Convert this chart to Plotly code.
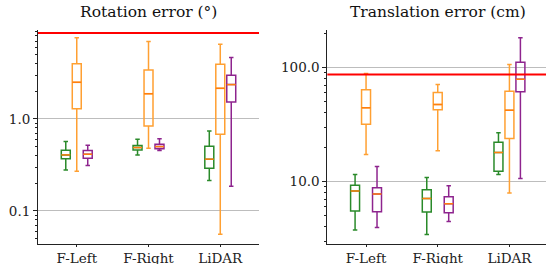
import plotly.graph_objects as go

categories = ["F-Left", "F-Right", "LiDAR"]
methods = ["A", "B", "C"]
method_colors = ["#2a8a2a", "#ffa032", "#8e248e"]
median_color = "#ff7f0e"

# Rotation error (deg): per method, per category
rot_low = [[0.279, 0.406, 0.214], [0.27, 0.48, 0.0558], [0.311, 0.453, 0.185]]
rot_q1 = [[0.37, 0.46, 0.291], [1.29, 0.84, 0.68], [0.374, 0.475, 1.53]]
rot_med = [[0.406, 0.488, 0.365], [2.5, 1.88, 2.15], [0.413, 0.50, 2.36]]
rot_q3 = [[0.456, 0.513, 0.505], [3.99, 3.41, 3.93], [0.453, 0.53, 2.99]]
rot_high = [[0.567, 0.601, 0.741], [7.65, 6.93, 6.49], [0.518, 0.61, 4.64]]
rot_threshold = 8.6

# Translation error (cm)
tr_low = [[3.74, 3.43, 11.5], [17.2, 18.6, 7.9], [3.94, 4.46, 10.6]]
tr_q1 = [[5.5, 5.38, 12.3], [31.8, 42.5, 23.8], [5.41, 5.31, 61.1]]
tr_med = [[8.24, 7.1, 17.9], [44.4, 47.3, 42.2], [7.75, 6.37, 79.0]]
tr_q3 = [[9.25, 8.46, 22.1], [63.7, 60.2, 61.9], [8.81, 7.33, 111.0]]
tr_high = [[11.5, 10.8, 26.8], [88.5, 70.8, 106.0], [13.5, 9.16, 182.0]]
tr_threshold = 86.8

rot_ticks = [0.1, 1.0]
rot_ticktext = ["0.1", "1.0"]
tr_ticks = [10, 100]
tr_ticktext = ["10.0", "100.0"]

offsets = [-0.153, 0.0, 0.153]
box_w = 0.125
x_range = [-0.54, 2.54]

fig = go.Figure()

def add_panel(low, q1, med, q3, high, xa, ya):
    for m in range(3):
        xs = [i + offsets[m] for i in range(len(categories))]
        fig.add_trace(go.Box(
            x=xs, q1=q1[m], median=med[m], q3=q3[m],
            lowerfence=low[m], upperfence=high[m],
            width=box_w, whiskerwidth=0.5, boxpoints=False,
            line=dict(color=method_colors[m], width=1.5),
            fillcolor="rgba(255,255,255,0)",
            xaxis=xa, yaxis=ya, showlegend=False, hoverinfo="skip"))
        mx, my = [], []
        for i, x in enumerate(xs):
            mx += [x - box_w / 2, x + box_w / 2, None]
            my += [med[m][i], med[m][i], None]
        fig.add_trace(go.Scatter(x=mx, y=my, mode="lines",
                                 line=dict(color=median_color, width=1.5),
                                 xaxis=xa, yaxis=ya, showlegend=False, hoverinfo="skip"))

add_panel(rot_low, rot_q1, rot_med, rot_q3, rot_high, "x", "y")
add_panel(tr_low, tr_q1, tr_med, tr_q3, tr_high, "x2", "y2")

fig.add_shape(type="line", xref="x domain", x0=0, x1=1, yref="y",
              y0=rot_threshold, y1=rot_threshold, line=dict(color="red", width=2))
fig.add_shape(type="line", xref="x2 domain", x0=0, x1=1, yref="y2",
              y0=tr_threshold, y1=tr_threshold, line=dict(color="red", width=2))

font = dict(family="DejaVu Serif", size=13.5, color="#222")
axis_common = dict(showline=True, linecolor="#222", linewidth=1, mirror=False,
                   ticks="outside", tickcolor="#222", tickfont=font,
                   zeroline=False, automargin=False)

def minor_vals(decades):
    out = []
    for d in decades:
        out += [k * d for k in range(2, 10)]
    return out

title_font = dict(family="DejaVu Serif", size=15.5, color="#111")
ydom = [0.0758, 0.8864]

fig.update_layout(
    width=546, height=264, margin=dict(l=0, r=0, t=0, b=0),
    plot_bgcolor="white", paper_bgcolor="white", boxmode="overlay",
    xaxis=dict(domain=[0.0696, 0.4744], range=x_range, tickvals=[0, 1, 2],
               ticktext=categories, showgrid=False, anchor="y", ticklen=2,
               **axis_common),
    yaxis=dict(domain=ydom, type="log", range=[-1.36, 0.967],
               tickvals=rot_ticks, ticktext=rot_ticktext, showgrid=True,
               gridcolor="#bdbdbd", gridwidth=1, anchor="x", ticklen=4,
               minor=dict(tickvals=minor_vals([0.01, 0.1, 1]), ticks="outside",
                          ticklen=2, tickcolor="#222", showgrid=False),
               **axis_common),
    xaxis2=dict(domain=[0.5995, 1.0], range=[-0.54, 2.51], tickvals=[0, 1, 2],
                ticktext=categories, showgrid=False, anchor="y2", ticklen=2,
                **axis_common),
    yaxis2=dict(domain=ydom, type="log", range=[0.451, 2.329],
                tickvals=tr_ticks, ticktext=tr_ticktext, showgrid=True,
                gridcolor="#bdbdbd", gridwidth=1, anchor="x2", ticklen=4,
                minor=dict(tickvals=minor_vals([1, 10, 100]), ticks="outside",
                           ticklen=2, tickcolor="#222", showgrid=False),
                **axis_common),
    annotations=[
        dict(text="Rotation error (°)", x=0.2720, y=1.0, xref="paper", yref="paper",
             yanchor="top", xanchor="center", showarrow=False,
             font=title_font, yshift=-1),
        dict(text="Translation error (cm)", x=0.803, y=1.0, xref="paper", yref="paper",
             yanchor="top", xanchor="center", showarrow=False,
             font=title_font, yshift=-1),
    ],
)

fig.write_html("out.html", config={"displayModeBar": False},
               post_script="document.body.style.margin='0px';document.body.style.overflow='hidden';")
